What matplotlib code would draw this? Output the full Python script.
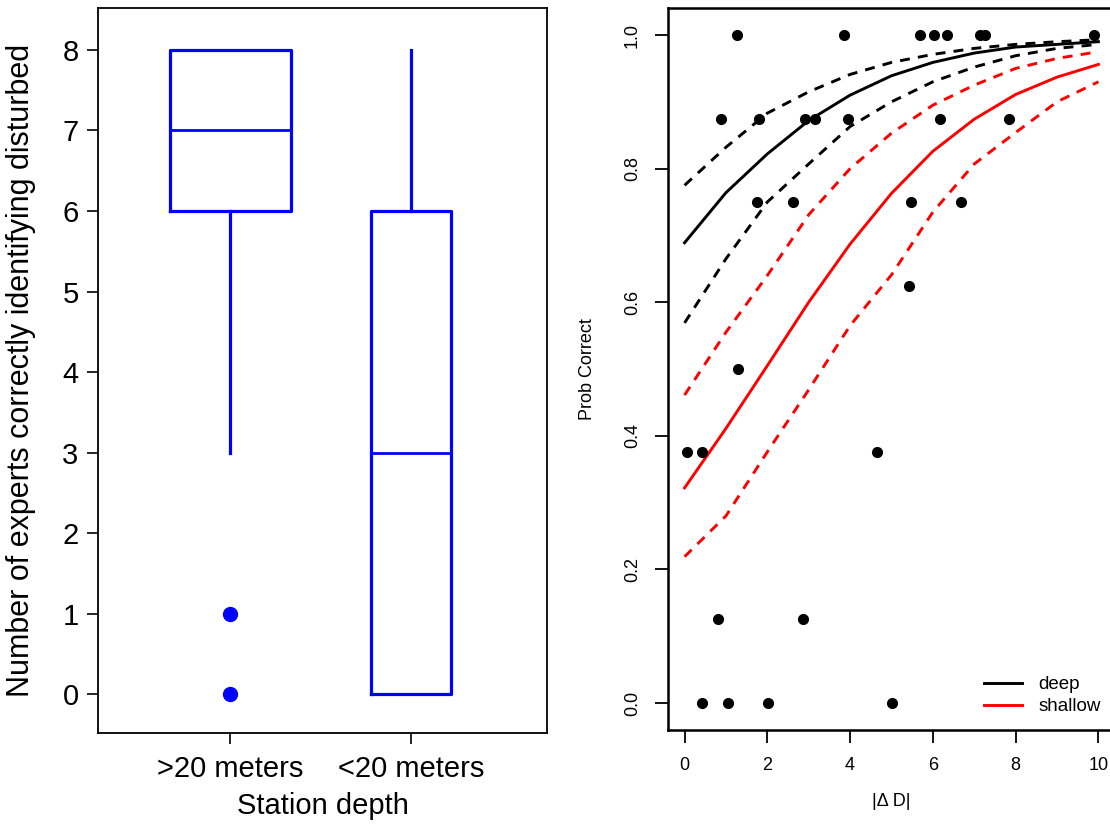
import matplotlib
matplotlib.use("Agg")
import matplotlib.pyplot as plt

plt.rcParams["font.family"] = ["Liberation Sans", "DejaVu Sans"]

# --- left panel: experts correctly identifying disturbed stations, by depth ---
depth_groups = [">20 meters", "<20 meters"]
box_q1 = [6, 0]
box_median = [7, 3]
box_q3 = [8, 6]
whisker_lo = [3, 0]
whisker_hi = [8, 8]
outliers = [[1, 0], []]
box_widths = [0.667, 0.44]      # variable-width boxes

# --- right panel: fitted probability of a correct call vs |delta D| ---
delta_x = [0, 1, 2, 3, 4, 5, 6, 7, 8, 9, 10]
deep_fit = [0.689, 0.764, 0.822, 0.872, 0.910, 0.939, 0.959, 0.973, 0.982, 0.986, 0.990]
deep_hi = [0.775, 0.832, 0.883, 0.915, 0.941, 0.959, 0.971, 0.980, 0.986, 0.990, 0.993]
deep_lo = [0.569, 0.665, 0.750, 0.807, 0.863, 0.900, 0.930, 0.952, 0.969, 0.980, 0.986]
shallow_fit = [0.322, 0.411, 0.505, 0.600, 0.687, 0.763, 0.826, 0.874, 0.911, 0.937, 0.956]
shallow_hi = [0.461, 0.555, 0.640, 0.731, 0.800, 0.853, 0.895, 0.925, 0.950, 0.965, 0.975]
shallow_lo = [0.219, 0.280, 0.376, 0.469, 0.565, 0.641, 0.735, 0.807, 0.854, 0.900, 0.930]

obs_x = [1.26, 3.86, 5.70, 6.02, 6.35, 7.15, 7.27, 9.90,
         0.89, 1.79, 2.92, 3.14, 3.96, 6.16, 7.85,
         1.76, 2.61, 5.48, 6.67,
         5.43,
         1.30,
         0.05, 0.41, 4.66,
         0.80, 2.85,
         0.43, 1.04, 2.01, 5.00]
obs_y = [1.0, 1.0, 1.0, 1.0, 1.0, 1.0, 1.0, 1.0,
         0.875, 0.875, 0.875, 0.875, 0.875, 0.875, 0.875,
         0.75, 0.75, 0.75, 0.75,
         0.625,
         0.5,
         0.375, 0.375, 0.375,
         0.125, 0.125,
         0.0, 0.0, 0.0, 0.0]

W, H = 1110, 824
fig = plt.figure(figsize=(W / 100, H / 100), dpi=100)

# left boxplot
ax1 = fig.add_axes([98 / W, 1 - 733 / H, (547 - 98) / W, (733 - 8) / H])
stats = []
for i, name in enumerate(depth_groups):
    stats.append(dict(label=name, med=box_median[i], q1=box_q1[i], q3=box_q3[i],
                      whislo=whisker_lo[i], whishi=whisker_hi[i], fliers=outliers[i]))
blue = "#0000ff"
ax1.bxp(stats, positions=[1, 2], widths=box_widths, showcaps=False,
        boxprops=dict(color=blue, lw=2.3),
        whiskerprops=dict(color=blue, lw=2.3, ls="-"),
        medianprops=dict(color=blue, lw=2.0),
        flierprops=dict(marker="o", mfc=blue, mec=blue, ms=10))
ax1.set_xlim(0.27, 2.75)
ax1.set_ylim(-0.48, 8.52)
ax1.set_yticks(range(0, 9))
ax1.tick_params(axis="both", length=8, width=1.2, labelsize=21, pad=6)
ax1.tick_params(axis="x", pad=8)
ax1.set_xlabel("Station depth", fontsize=21, labelpad=6)
ax1.set_ylabel("Number of experts correctly identifying disturbed", fontsize=22)
ax1.yaxis.set_label_coords(-62 / 449, 0.5)
for s in ax1.spines.values():
    s.set_linewidth(1.3)

# right panel: logistic fit with confidence bands
ax2 = fig.add_axes([668 / W, 1 - 729.7 / H, 447 / W, (729.7 - 8.3) / H])
dash = (3.4, 2.8)
lw = 2.1
ax2.plot(delta_x, deep_fit, color="black", lw=lw, label="deep")
ax2.plot(delta_x, deep_hi, color="black", lw=lw, ls=(0, dash))
ax2.plot(delta_x, deep_lo, color="black", lw=lw, ls=(0, dash))
ax2.plot(delta_x, shallow_fit, color="red", lw=lw, label="shallow")
ax2.plot(delta_x, shallow_hi, color="red", lw=lw, ls=(0, dash))
ax2.plot(delta_x, shallow_lo, color="red", lw=lw, ls=(0, dash))
ax2.plot(obs_x, obs_y, "o", color="black", ms=7, zorder=3)
ax2.set_xlim(-0.4, 10.4)
ax2.set_ylim(-0.04, 1.04)
ax2.set_xticks([0, 2, 4, 6, 8, 10])
ax2.set_yticks([0.0, 0.2, 0.4, 0.6, 0.8, 1.0])
ax2.set_yticklabels(["0.0", "0.2", "0.4", "0.6", "0.8", "1.0"], rotation=90, va="center")
ax2.tick_params(axis="both", length=9.5, width=1.3, labelsize=13)
ax2.tick_params(axis="x", pad=10)
ax2.tick_params(axis="y", pad=10)
ax2.set_xlabel("|\u0394 D|", fontsize=13, labelpad=14)
ax2.set_ylabel("Prob Correct", fontsize=13, labelpad=20)
for s in ax2.spines.values():
    s.set_linewidth(1.8)
ax2.legend(loc="center left", bbox_to_anchor=(0.707, 0.047), frameon=False,
           fontsize=13.5, handlelength=2.0, handletextpad=0.9,
           labelspacing=0.25, borderpad=0, borderaxespad=0)

fig.savefig("out.png", dpi=100)
